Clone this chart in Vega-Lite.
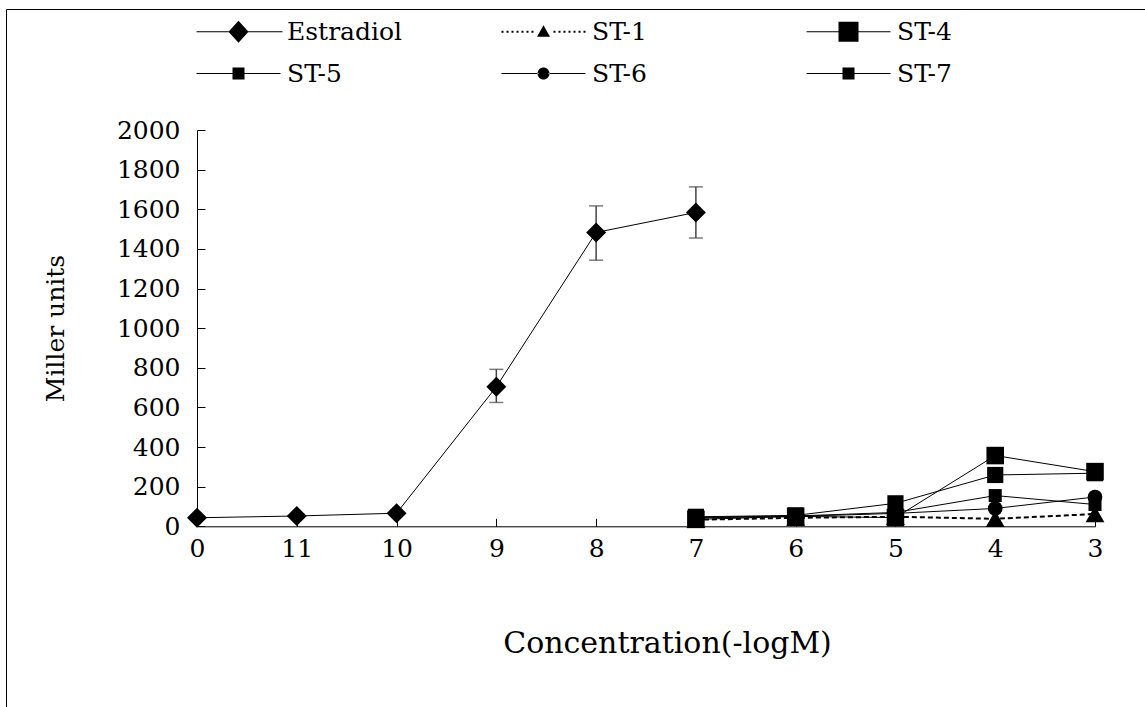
{
  "$schema": "https://vega.github.io/schema/vega-lite/v6.json",
  "autosize": "none",
  "padding": {"left": 6, "top": 9, "right": -20, "bottom": -20},
  "width": 1159,
  "height": 718,
  "background": "white",
  "config": {"view": {"stroke": "black", "strokeWidth": 1}, "font": "DejaVu Serif"},
  "data": {"values": [
    {"series": "Estradiol", "conc": "0", "value": 43},
    {"series": "Estradiol", "conc": "11", "value": 52},
    {"series": "Estradiol", "conc": "10", "value": 66},
    {"series": "Estradiol", "conc": "9", "value": 704, "lo": 625, "hi": 792},
    {"series": "Estradiol", "conc": "8", "value": 1483, "lo": 1343, "hi": 1617},
    {"series": "Estradiol", "conc": "7", "value": 1584, "lo": 1455, "hi": 1713},
    {"series": "ST-1", "conc": "7", "value": 33},
    {"series": "ST-1", "conc": "6", "value": 43},
    {"series": "ST-1", "conc": "5", "value": 48},
    {"series": "ST-1", "conc": "4", "value": 38},
    {"series": "ST-1", "conc": "3", "value": 62},
    {"series": "ST-5", "conc": "7", "value": 48},
    {"series": "ST-5", "conc": "6", "value": 55},
    {"series": "ST-5", "conc": "5", "value": 116},
    {"series": "ST-5", "conc": "4", "value": 259},
    {"series": "ST-5", "conc": "3", "value": 268},
    {"series": "ST-6", "conc": "7", "value": 42},
    {"series": "ST-6", "conc": "6", "value": 50},
    {"series": "ST-6", "conc": "5", "value": 65},
    {"series": "ST-6", "conc": "4", "value": 90},
    {"series": "ST-6", "conc": "3", "value": 148},
    {"series": "ST-7", "conc": "7", "value": 45},
    {"series": "ST-7", "conc": "6", "value": 52},
    {"series": "ST-7", "conc": "5", "value": 70},
    {"series": "ST-7", "conc": "4", "value": 155},
    {"series": "ST-7", "conc": "3", "value": 110},
    {"series": "ST-4", "conc": "7", "value": 35},
    {"series": "ST-4", "conc": "6", "value": 50},
    {"series": "ST-4", "conc": "5", "value": 44},
    {"series": "ST-4", "conc": "4", "value": 357},
    {"series": "ST-4", "conc": "3", "value": 276}
  ]},
  "encoding": {
    "x": {
      "field": "conc", "type": "ordinal", "title": "Concentration(-logM)",
      "scale": {"type": "point", "domain": ["0","11","10","9","8","7","6","5","4","3"], "range": [191, 1089], "padding": 0},
      "axis": {
        "offset": -200.7, "labelAngle": 0, "grid": false,
        "domainColor": "black", "domainWidth": 1,
        "tickColor": "black", "tickSize": -8, "tickWidth": 1,
        "labelFont": "DejaVu Serif", "labelFontSize": 25, "labelColor": "black", "labelPadding": 18,
        "titleFont": "DejaVu Serif", "titleFontSize": 30, "titleFontWeight": "normal", "titleColor": "black",
        "titleX": 661, "titleY": 117, "titleBaseline": "middle", "titleAlign": "center"
      }
    },
    "y": {
      "field": "value", "type": "quantitative", "title": "Miller units",
      "scale": {"domain": [0, 2000], "range": [517.3, 121], "nice": false},
      "axis": {
        "offset": -191, "values": [0,200,400,600,800,1000,1200,1400,1600,1800,2000], "format": "d", "grid": false,
        "domainColor": "black", "domainWidth": 1,
        "tickColor": "black", "tickSize": -8, "tickWidth": 1,
        "labelFont": "DejaVu Serif", "labelFontSize": 25, "labelColor": "black", "labelPadding": 25,
        "titleFont": "DejaVu Serif", "titleFontSize": 25, "titleFontWeight": "normal", "titleColor": "black",
        "titleX": -142, "titleY": 319, "titleBaseline": "middle", "titleAlign": "center", "titleAngle": -90
      }
    }
  },
  "layer": [
    {
      "transform": [{"filter": "datum.series != 'ST-1'"}],
      "mark": {"type": "line", "color": "black", "strokeWidth": 1},
      "encoding": {"detail": {"field": "series"}, "order": {"value": null}}
    },
    {
      "transform": [{"filter": "datum.series == 'ST-1'"}],
      "mark": {"type": "line", "color": "black", "strokeWidth": 2, "strokeDash": [5, 3]},
      "encoding": {"detail": {"field": "series"}, "order": {"value": null}}
    },
    {
      "transform": [{"filter": "datum.lo != null"}],
      "mark": {"type": "rule", "color": "#444444", "strokeWidth": 1.5},
      "encoding": {
        "y": {"field": "lo", "type": "quantitative", "title": "Miller units", "scale": {"domain": [0, 2000], "range": [517.3, 121], "nice": false}},
        "y2": {"field": "hi"}
      }
    },
    {
      "transform": [{"filter": "datum.lo != null"}],
      "mark": {"type": "tick", "color": "#444444", "thickness": 1.5, "size": 14},
      "encoding": {
        "y": {"field": "hi", "type": "quantitative", "title": "Miller units", "scale": {"domain": [0, 2000], "range": [517.3, 121], "nice": false}}
      }
    },
    {
      "transform": [{"filter": "datum.lo != null"}],
      "mark": {"type": "tick", "color": "#444444", "thickness": 1.5, "size": 14},
      "encoding": {
        "y": {"field": "lo", "type": "quantitative", "title": "Miller units", "scale": {"domain": [0, 2000], "range": [517.3, 121], "nice": false}}
      }
    },
    {
      "mark": {"type": "point", "filled": true, "color": "black", "opacity": 1, "strokeWidth": 0},
      "encoding": {
        "shape": {"field": "series", "type": "nominal", "legend": null,
          "scale": {"domain": ["Estradiol","ST-1","ST-4","ST-5","ST-6","ST-7"], "range": ["diamond","triangle-up","square","square","circle","square"]}},
        "size": {"field": "series", "type": "nominal", "legend": null,
          "scale": {"domain": ["Estradiol","ST-1","ST-4","ST-5","ST-6","ST-7"], "range": [400, 170, 400, 170, 170, 170]}}
      }
    },
    {
      "mark": {"type": "point", "fill": "black", "stroke": "black", "strokeWidth": 0, "opacity": 1, "size": 0},
      "encoding": {
        "shape": {"field": "series", "type": "nominal",
          "scale": {"domain": ["Estradiol","ST-1","ST-4","ST-5","ST-6","ST-7"], "range": [
            "M-4.2,-0.06L-0.9,-0.06L-0.9,0.06L-4.2,0.06ZM0.9,-0.06L4.4,-0.06L4.4,0.06L0.9,0.06ZM-1,0L0,-1.1L1,0L0,1.1Z",
            "M-4.2,-0.1L-4.0,-0.1L-4.0,0.1L-4.2,0.1ZM-3.7,-0.1L-3.5,-0.1L-3.5,0.1L-3.7,0.1ZM-3.2,-0.1L-3.0,-0.1L-3.0,0.1L-3.2,0.1ZM-2.7,-0.1L-2.5,-0.1L-2.5,0.1L-2.7,0.1ZM-2.2,-0.1L-2.0,-0.1L-2.0,0.1L-2.2,0.1ZM-1.7,-0.1L-1.5,-0.1L-1.5,0.1L-1.7,0.1ZM-1.2,-0.1L-1.0,-0.1L-1.0,0.1L-1.2,0.1ZM1.0,-0.1L1.2,-0.1L1.2,0.1L1.0,0.1ZM1.5,-0.1L1.7,-0.1L1.7,0.1L1.5,0.1ZM2.0,-0.1L2.2,-0.1L2.2,0.1L2.0,0.1ZM2.5,-0.1L2.7,-0.1L2.7,0.1L2.5,0.1ZM3.0,-0.1L3.2,-0.1L3.2,0.1L3.0,0.1ZM3.5,-0.1L3.7,-0.1L3.7,0.1L3.5,0.1ZM4.0,-0.1L4.2,-0.1L4.2,0.1L4.0,0.1ZM-0.65,0.5L0,-0.65L0.65,0.5Z",
            "M-4.2,-0.06L-0.9,-0.06L-0.9,0.06L-4.2,0.06ZM0.9,-0.06L4.2,-0.06L4.2,0.06L0.9,0.06ZM-1,-1L1,-1L1,1L-1,1Z",
            "M-4.2,-0.06L-0.5,-0.06L-0.5,0.06L-4.2,0.06ZM0.5,-0.06L4.2,-0.06L4.2,0.06L0.5,0.06ZM-0.6,-0.6L0.6,-0.6L0.6,0.6L-0.6,0.6Z",
            "M-4.2,-0.06L-0.5,-0.06L-0.5,0.06L-4.2,0.06ZM0.5,-0.06L4.2,-0.06L4.2,0.06L0.5,0.06ZM-0.6,0A0.6,0.6,0,1,0,0.6,0A0.6,0.6,0,1,0,-0.6,0Z",
            "M-4.2,-0.06L-0.5,-0.06L-0.5,0.06L-4.2,0.06ZM0.5,-0.06L4.2,-0.06L4.2,0.06L0.5,0.06ZM-0.6,-0.6L0.6,-0.6L0.6,0.6L-0.6,0.6Z"
          ]},
          "legend": {
            "orient": "none", "legendX": 220, "legendY": 10, "columns": 3, "direction": "horizontal", "gridAlign": "all",
            "columnPadding": 98, "rowPadding": 16, "padding": 0, "title": null,
            "symbolSize": 400, "symbolFillColor": "black", "symbolStrokeColor": "black", "symbolStrokeWidth": 0, "symbolOpacity": 1,
            "labelFont": "DejaVu Serif", "labelFontSize": 25, "labelColor": "black", "labelOffset": 36, "labelLimit": 0,
            "encode": {"symbols": {"update": {"fill": {"value": "black"}, "opacity": {"value": 1}, "size": {"value": 400}}}}
          }
        }
      }
    }
  ],
  "resolve": {"scale": {"shape": "independent", "size": "independent"}, "legend": {"shape": "independent"}}
}
